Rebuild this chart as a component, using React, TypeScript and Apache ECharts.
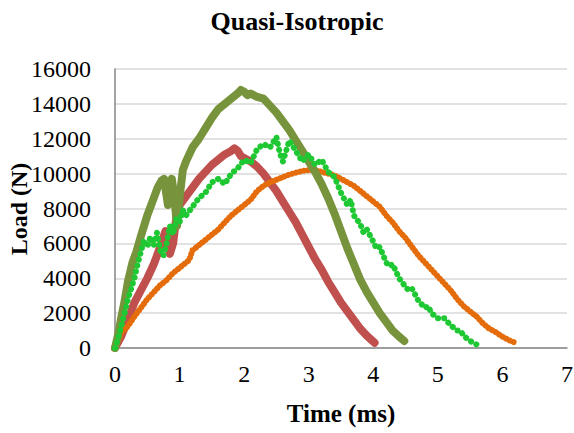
import React, { useEffect, useRef } from "react";
import * as echarts from "echarts";

const chartTitle = "Quasi-Isotropic";
const xAxisTitle = "Time (ms)";
const yAxisTitle = "Load (N)";
const xMin = 0, xMax = 7, xStep = 1;
const yMin = 0, yMax = 16000, yStep = 2000;

// [time (ms), load (N)]
const redSpecimen: [number, number][] = [
  [0, 0], [0.1, 700], [0.2, 1600], [0.3, 2600], [0.4, 3300], [0.5, 4000], [0.6, 4800],
  [0.7, 5800], [0.78, 6700], [0.85, 5400], [0.9, 6000], [0.95, 7500], [1.0, 8200],
  [1.1, 8700], [1.2, 9200], [1.3, 9700], [1.4, 10100], [1.5, 10500], [1.6, 10800],
  [1.7, 11100], [1.8, 11300], [1.85, 11450], [1.9, 11300], [1.95, 11000], [2.0, 10900],
  [2.1, 10700], [2.2, 10400], [2.3, 10000], [2.4, 9500], [2.5, 9000], [2.6, 8400],
  [2.7, 7800], [2.8, 7200], [2.9, 6500], [3.0, 5800], [3.1, 5100], [3.2, 4500],
  [3.3, 3800], [3.4, 3200], [3.5, 2600], [3.6, 2100], [3.7, 1600], [3.8, 1100],
  [3.9, 700], [4.02, 300],
];

const oliveSpecimen: [number, number][] = [
  [0, 0], [0.05, 800], [0.1, 1800], [0.15, 2700], [0.2, 3800], [0.27, 4900], [0.33, 5500],
  [0.4, 6400], [0.5, 7600], [0.6, 8600], [0.66, 9200], [0.72, 9600], [0.76, 9700],
  [0.82, 8200], [0.88, 9700], [0.92, 8600], [0.96, 7000], [1.0, 8600], [1.05, 10200],
  [1.1, 10700], [1.2, 11500], [1.3, 12000], [1.4, 12600], [1.5, 13200], [1.6, 13700],
  [1.7, 14000], [1.8, 14300], [1.9, 14600], [1.95, 14800], [2.0, 14700], [2.05, 14500],
  [2.1, 14600], [2.2, 14400], [2.3, 14300], [2.4, 13900], [2.5, 13500], [2.6, 13000],
  [2.7, 12500], [2.8, 11900], [2.9, 11300], [3.0, 10700], [3.1, 10100], [3.2, 9400],
  [3.3, 8600], [3.4, 7700], [3.5, 6700], [3.6, 5700], [3.7, 4800], [3.8, 3900],
  [3.9, 3200], [4.0, 2600], [4.1, 2000], [4.2, 1500], [4.3, 1000], [4.4, 650], [4.48, 400],
];

const greenSpecimen: [number, number][] = [
  [0, 0], [0.05, 600], [0.1, 1300], [0.15, 2000], [0.2, 2800], [0.25, 3400], [0.3, 4000],
  [0.35, 4800], [0.4, 5500], [0.45, 6200], [0.5, 5800], [0.55, 6400], [0.6, 5900],
  [0.65, 6600], [0.7, 5600], [0.75, 5300], [0.8, 6000], [0.85, 7000], [0.9, 6500],
  [0.95, 7400], [1.0, 7200], [1.05, 7900], [1.1, 7600], [1.2, 8100], [1.3, 8600],
  [1.4, 8900], [1.5, 9500], [1.6, 9700], [1.7, 9400], [1.8, 10000], [1.9, 10300],
  [2.0, 10800], [2.1, 10600], [2.2, 11400], [2.3, 11700], [2.4, 11500], [2.5, 12100],
  [2.55, 11200], [2.6, 10700], [2.7, 11900], [2.8, 11300], [2.9, 10700], [3.0, 11100],
  [3.1, 10500], [3.2, 10800], [3.3, 10100], [3.4, 9800], [3.5, 8900], [3.6, 8200],
  [3.65, 8500], [3.7, 7600], [3.8, 7100], [3.85, 6600], [3.9, 6800], [4.0, 6100],
  [4.05, 5700], [4.1, 5800], [4.2, 4900], [4.25, 4700], [4.3, 4800], [4.4, 4000],
  [4.5, 3500], [4.55, 3300], [4.6, 3400], [4.7, 2700], [4.8, 2300], [4.85, 2400],
  [4.9, 2000], [5.0, 1700], [5.1, 1700], [5.2, 1300], [5.3, 1000], [5.35, 1000],
  [5.4, 700], [5.5, 400], [5.6, 200], [5.65, 200],
];

const orangeSpecimen: [number, number][] = [
  [0, 0], [0.05, 400], [0.1, 900], [0.2, 1250], [0.3, 1800], [0.4, 2300], [0.5, 2800],
  [0.6, 3200], [0.7, 3600], [0.8, 3900], [0.9, 4300], [1.0, 4600], [1.1, 4900],
  [1.15, 5050], [1.2, 5600], [1.3, 5900], [1.4, 6200], [1.5, 6500], [1.6, 6800],
  [1.7, 7200], [1.8, 7600], [1.9, 7900], [2.0, 8200], [2.1, 8500], [2.2, 9000],
  [2.3, 9300], [2.4, 9500], [2.5, 9650], [2.6, 9800], [2.7, 9950], [2.8, 10050],
  [2.9, 10150], [3.0, 10200], [3.1, 10200], [3.2, 10100], [3.3, 10000], [3.4, 9900],
  [3.5, 9700], [3.6, 9500], [3.7, 9300], [3.8, 9000], [3.9, 8700], [4.0, 8400],
  [4.1, 8100], [4.2, 7600], [4.3, 7200], [4.4, 6700], [4.5, 6300], [4.6, 5800],
  [4.7, 5300], [4.8, 4900], [4.9, 4500], [5.0, 4100], [5.1, 3700], [5.2, 3300],
  [5.3, 2800], [5.4, 2400], [5.5, 2100], [5.6, 1800], [5.7, 1400], [5.8, 1100],
  [5.9, 900], [6.0, 650], [6.1, 450], [6.2, 300],
];

const serif = "'Liberation Serif', 'Times New Roman', serif";

export default function App() {
  const ref = useRef<HTMLDivElement>(null);
  useEffect(() => {
    const chart = echarts.init(ref.current!, null, { renderer: "svg" });
    const thickLine = (name: string, data: [number, number][], color: string, width: number) => ({
      name,
      type: "line",
      data,
      showSymbol: false,
      symbol: "none",
      smooth: false,
      lineStyle: { color, width, cap: "round", join: "round" },
      itemStyle: { color },
    });
    const dotLine = (name: string, data: [number, number][], color: string, width: number, gap: number) => ({
      name,
      type: "line",
      data,
      showSymbol: false,
      symbol: "none",
      lineStyle: { color, width, type: [0.1, gap], cap: "round", join: "round" },
      itemStyle: { color },
    });
    chart.setOption({
      animation: false,
      title: {
        text: chartTitle,
        left: 292,
        top: 3,
        textAlign: "center",
        textStyle: { fontFamily: serif, fontSize: 26, fontWeight: "bold", color: "#000" },
      },
      graphic: [
        {
          type: "text",
          x: 19,
          y: 209,
          rotation: Math.PI / 2,
          style: {
            text: yAxisTitle,
            fill: "#000",
            font: `bold 24px ${serif}`,
            align: "center",
            verticalAlign: "middle",
          },
        },
      ],
      grid: { left: 115, right: 7, top: 69, bottom: 85, containLabel: false, outerBoundsMode: "none" },
      xAxis: {
        type: "value",
        min: xMin,
        max: xMax,
        interval: xStep,
        name: xAxisTitle,
        nameLocation: "middle",
        nameGap: 53,
        nameTextStyle: { fontFamily: serif, fontSize: 25, fontWeight: "bold", color: "#000" },
        axisLine: { show: true, lineStyle: { color: "#868686", width: 1.5 } },
        axisTick: { show: false },
        splitLine: { show: false },
        axisLabel: { fontFamily: serif, fontSize: 24, color: "#000", margin: 14, formatter: (v: number) => String(v) },
      },
      yAxis: {
        type: "value",
        min: yMin,
        max: yMax,
        interval: yStep,
        axisLine: { show: true, lineStyle: { color: "#868686", width: 1.5 } },
        axisTick: { show: false },
        splitLine: { show: true, lineStyle: { color: "#d9d9d9", width: 1.5 } },
        axisLabel: { fontFamily: serif, fontSize: 24, color: "#000", margin: 24, formatter: (v: number) => String(v) },
      },
      series: [
        thickLine("Red", redSpecimen, "#c0504d", 8),
        dotLine("Orange", orangeSpecimen, "#e46c0a", 6, 4),
        thickLine("Olive", oliveSpecimen, "#77933c", 8),
        dotLine("Green", greenSpecimen, "#1ec832", 6, 6),
      ],
    });
    return () => chart.dispose();
  }, []);
  return (
    <div
      ref={ref}
      style={{ position: "fixed", left: 0, top: 0, width: 574, height: 433, background: "#fff" }}
    />
  );
}
